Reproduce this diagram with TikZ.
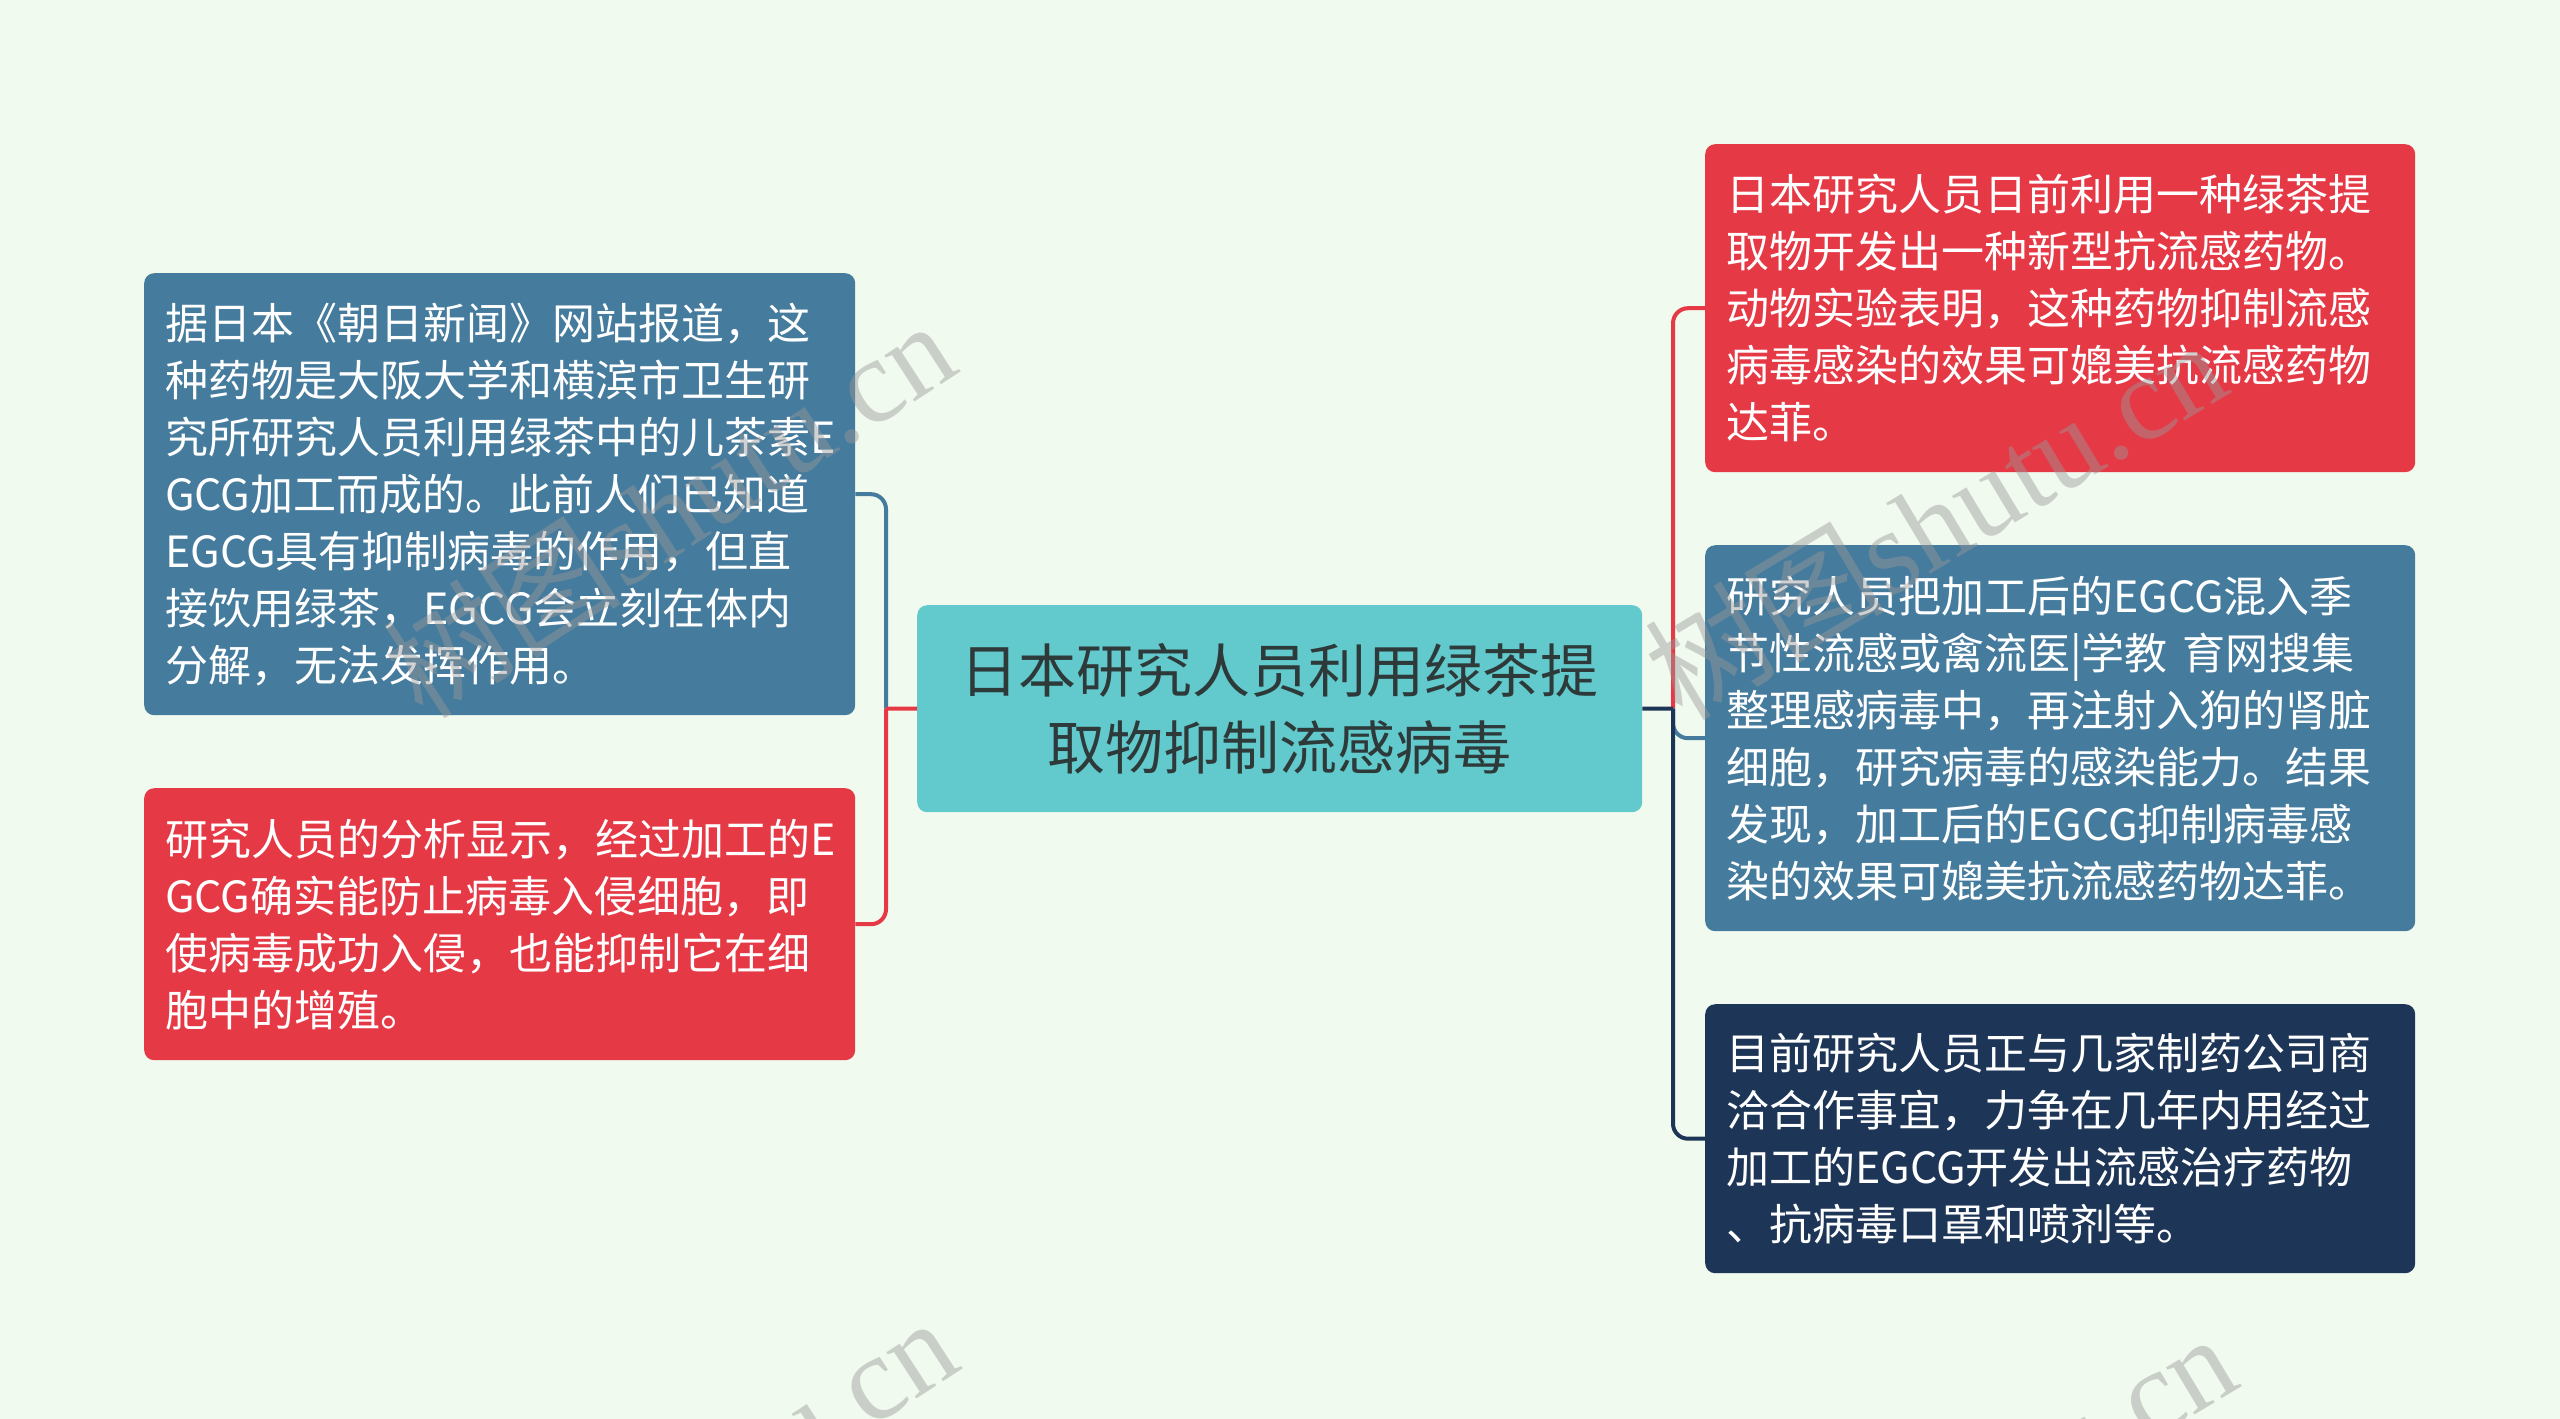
\documentclass[tikz,border=0pt]{standalone}
\usepackage{fontspec}
\setmainfont{Noto Sans CJK SC}
\newfontfamily\wmlatin{Liberation Serif}
\newfontfamily\wmcjk{Noto Sans CJK SC}
\definecolor{bgc}{HTML}{F1FAEE}
\definecolor{cteal}{HTML}{62C9CC}
\definecolor{cblue}{HTML}{457B9D}
\definecolor{cred}{HTML}{E63946}
\definecolor{cnavy}{HTML}{1D3557}
\definecolor{ctext}{HTML}{2E3A3A}
\definecolor{wmgray}{HTML}{9A9A9A}
\tikzset{
  box/.style={rounded corners=10pt, anchor=north west, inner xsep=21pt, inner ysep=0pt,
    align=left, text=white, font=\fontsize{43}{57}\selectfont},
  leftbox/.style={box, text width=669pt, minimum width=711pt},
  rightbox/.style={box, text width=668pt, minimum width=710pt},
  centerbox/.style={rounded corners=10pt, anchor=north west, inner xsep=20pt, inner ysep=0pt,
    align=center, text=ctext, fill=cteal, text width=685pt, minimum width=725pt,
    minimum height=207pt, font=\fontsize{58}{77}\selectfont},
  conn/.style={line width=4pt},
  wm/.style={text=wmgray, opacity=0.45, font=\fontsize{120}{125}\selectfont, inner sep=0pt}
}
\begin{document}
\begin{tikzpicture}[x=1pt,y=-1pt]
\fill[bgc] (0,0) rectangle (2560,1419);
\useasboundingbox (0,0) rectangle (2560,1419);

% central topic
\node[centerbox] (C) at (917,605) {日本研究人员利用绿茶提\\取物抑制流感病毒};

% left branches
\node[leftbox, fill=cblue, minimum height=442pt] (A) at (144,273)
{据日本《朝日新闻》网站报道，这\\种药物是大阪大学和横滨市卫生研\\究所研究人员利用绿茶中的儿茶素E\\GCG加工而成的。此前人们已知道\\EGCG具有抑制病毒的作用，但直\\接饮用绿茶，EGCG会立刻在体内\\分解，无法发挥作用。};
\node[leftbox, fill=cred, minimum height=272pt] (B) at (144,788)
{研究人员的分析显示，经过加工的E\\GCG确实能防止病毒入侵细胞，即\\使病毒成功入侵，也能抑制它在细\\胞中的增殖。};

% right branches
\node[rightbox, fill=cred, minimum height=328pt] (R1) at (1705,144)
{日本研究人员日前利用一种绿茶提\\取物开发出一种新型抗流感药物。\\动物实验表明，这种药物抑制流感\\病毒感染的效果可媲美抗流感药物\\达菲。};
\node[rightbox, fill=cblue, minimum height=386pt] (R2) at (1705,545)
{研究人员把加工后的EGCG混入季\\节性流感或禽流医|学教 育网搜集\\整理感病毒中，再注射入狗的肾脏\\细胞，研究病毒的感染能力。结果\\发现，加工后的EGCG抑制病毒感\\染的效果可媲美抗流感药物达菲。};
\node[rightbox, fill=cnavy, minimum height=269pt] (R3) at (1705,1004)
{目前研究人员正与几家制药公司商\\洽合作事宜，力争在几年内用经过\\加工的EGCG开发出流感治疗药物\\、抗病毒口罩和喷剂等。};

% junctions
\coordinate (jl) at (886,708.5);
\coordinate (jr) at (1673,708.5);

% left connectors
\draw[conn, cblue, rounded corners=15pt] (jl) |- (A.east);
\draw[conn, cred] (C.west) -- (jl);
\draw[conn, cred, rounded corners=15pt] (jl) |- (B.east);

% right connectors
\draw[conn, cred, rounded corners=15pt] (jr) |- (R1.west);
\draw[conn, cblue, rounded corners=15pt] (jr) |- (R2.west);
\draw[conn, cnavy] (C.east) -- (jr);
\draw[conn, cnavy, rounded corners=15pt] (jr) |- (R3.west);

% watermarks
\begin{scope}
\clip (0,0) rectangle (2560,1419);
\node[wm, rotate=33] (w1) at (668,508) {\wmcjk 树图\wmlatin shutu.cn};
\node[wm, rotate=31] (w2) at (1935,518) {\wmcjk 树图\wmlatin shutu.cn};
\node[wm, rotate=33] (w3) at (670,1505) {\wmcjk 树图\wmlatin shutu.cn};
\node[wm, rotate=31] (w4) at (1945,1512) {\wmcjk 树图\wmlatin shutu.cn};
\end{scope}
\end{tikzpicture}
\end{document}
